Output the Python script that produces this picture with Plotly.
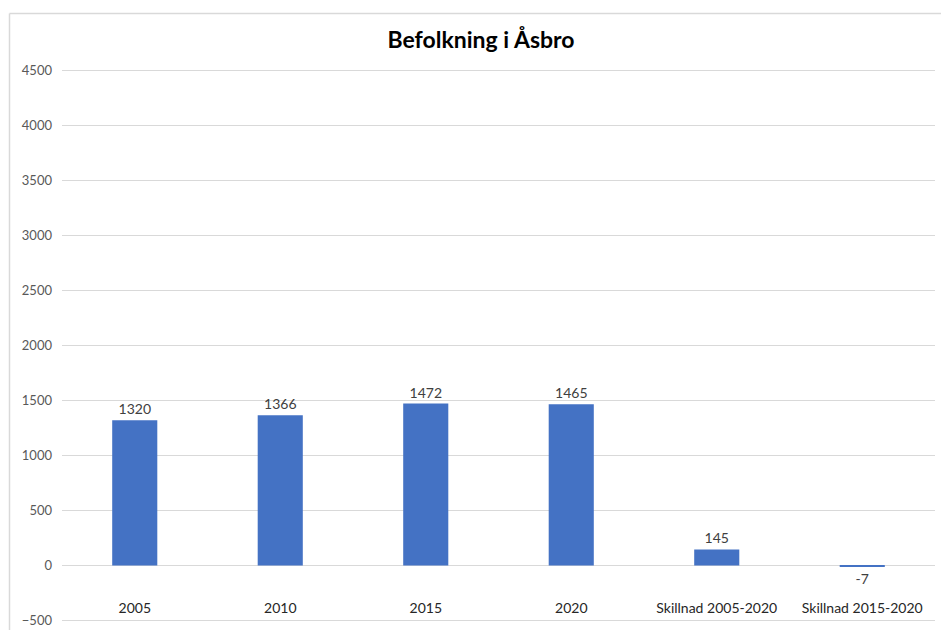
import plotly.graph_objects as go

categories = ["2005", "2010", "2015", "2020", "Skillnad 2005-2020", "Skillnad 2015-2020"]
values = [1320, 1366, 1472, 1465, 145, -7]
y_ticks = [-500, 0, 500, 1000, 1500, 2000, 2500, 3000, 3500, 4000, 4500]

W, H = 941, 630
L, R, T, B = 62, 6, 65, 3

fig = go.Figure(go.Bar(
    x=categories, y=values,
    marker=dict(color="#4472C4", line=dict(width=0)),
    text=[str(v) for v in values],
    textposition="outside",
    textfont=dict(family="Lato", size=14, color="#404040"),
    cliponaxis=False,
))

pw = W - L - R
ph = H - T - B
def px_x(p):
    return (p - L) / pw
def px_y(p):
    return 1 - (p - T) / ph

fig.update_layout(
    width=W, height=H,
    margin=dict(l=L, r=R, t=T, b=B),
    paper_bgcolor="white", plot_bgcolor="white",
    bargap=0.69,
    showlegend=False,
    title=dict(text="<b>Befolkning i Åsbro</b>", x=481 / W, xref="container", xanchor="center",
               y=1 - 40 / H, yref="container", yanchor="middle",
               font=dict(family="Lato", size=23, color="#000000")),
    font=dict(family="Lato", size=13, color="#595959"),
    xaxis=dict(showgrid=False, showline=False, zeroline=False, ticks="",
               anchor="free", position=px_y(598),
               tickfont=dict(size=14, color="#262626")),
    yaxis=dict(range=[-560, 4550], tickvals=y_ticks, showgrid=True, gridcolor="#D9D9D9", gridwidth=1,
               zeroline=True, zerolinecolor="#D9D9D9", zerolinewidth=1, showline=False,
               ticks="", ticklabelstandoff=9, tickfont=dict(size=13, color="#595959")),
    shapes=[
        dict(type="line", xref="paper", yref="paper", x0=px_x(9.5), x1=px_x(960), y0=px_y(13.5), y1=px_y(13.5),
             line=dict(color="#D9D9D9", width=1.5)),
        dict(type="line", xref="paper", yref="paper", x0=px_x(9.5), x1=px_x(9.5), y0=px_y(13.5), y1=px_y(650),
             line=dict(color="#D9D9D9", width=1.5)),
    ],
)

fig.write_html("out.html")
